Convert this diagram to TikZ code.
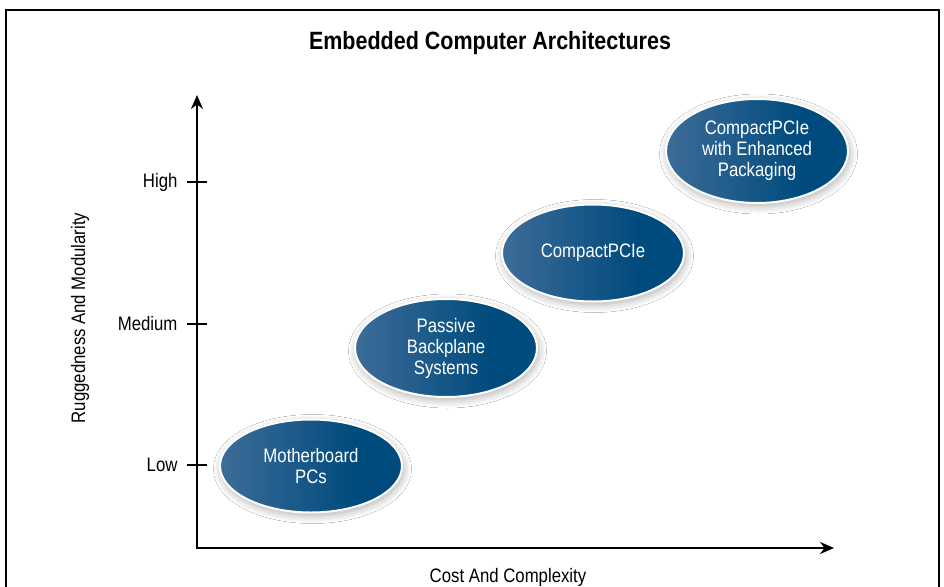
\documentclass[tikz,border=0pt]{standalone}
\usepackage{fontspec}
\setmainfont{Liberation Sans}[FakeStretch=0.86]
\usetikzlibrary{arrows.meta,shapes.geometric,shadows.blur}
\definecolor{elllight}{RGB}{62,108,152}
\definecolor{elldark}{RGB}{0,75,125}
\pgfdeclarehorizontalshading{ellshade}{100bp}{color(0bp)=(elllight); color(25bp)=(elllight); color(62bp)=(elldark); color(100bp)=(elldark)}
\tikzset{
  ell/.style={ellipse, inner sep=0pt, minimum width=184pt, minimum height=96pt,
    shading=ellshade, draw=white, line width=2pt, text=white, align=center,
    font=\fontsize{19.5}{21}\selectfont,
    blur shadow={shadow xshift=1.5pt, shadow yshift=-3pt, shadow blur radius=8pt, shadow blur steps=12, shadow opacity=32}},
  axisline/.style={line width=2.8pt, arrows={Stealth[length=14pt,width=12pt]-Stealth[length=14pt,width=12pt]}},
  tickline/.style={line width=2.2pt},
  lbl/.style={font=\fontsize{19.5}{21}\selectfont, text=black},
  framebox/.style={line width=1.4pt, draw=black}
}
\begin{document}
\begin{tikzpicture}[x=1pt,y=-1pt]
\useasboundingbox (0,0) rectangle (944,586);
\fill[white] (0,0) rectangle (944,586);
\clip (0,0) rectangle (944,586);
\draw[framebox] (6,10) rectangle (939,610);
\node[font=\fontsize{25}{28}\selectfont\bfseries] (title) at (490,43) {Embedded Computer Architectures};

% axes
\coordinate (O) at (197,548);
\coordinate (ytip) at (197,95);
\coordinate (xtip) at (834,548);
\draw[axisline] (ytip) -- (O) -- (xtip);

% ticks
\coordinate (th) at (197,182);
\coordinate (tm) at (197,324);
\coordinate (tl) at (197,465);
\foreach \t in {th,tm,tl} \draw[tickline] ([xshift=-10pt]\t) -- ([xshift=10pt]\t);
\node[lbl, anchor=east] (high) at (181,182) {High};
\node[lbl, anchor=east] (medium) at (181,324) {Medium};
\node[lbl, anchor=east] (low) at (181,465) {Low};

\node[lbl, rotate=90] (ylab) at (80,318) {Ruggedness And Modularity};
\node[lbl] (xlab) at (508,577) {Cost And Complexity};

% ellipses
\node[ell, minimum width=182pt, minimum height=93pt] (mb) at (311,466) {Motherboard\\PCs};
\node[ell, minimum width=182pt, minimum height=98pt] (pb) at (446,348) {Passive\\Backplane\\Systems};
\node[ell, minimum width=182pt, minimum height=97pt] (cp) at (593,253) {CompactPCIe};
\node[ell, minimum width=182pt, minimum height=104pt] (ce) at (757,151) {CompactPCIe\\with Enhanced\\Packaging};
\end{tikzpicture}
\end{document}
